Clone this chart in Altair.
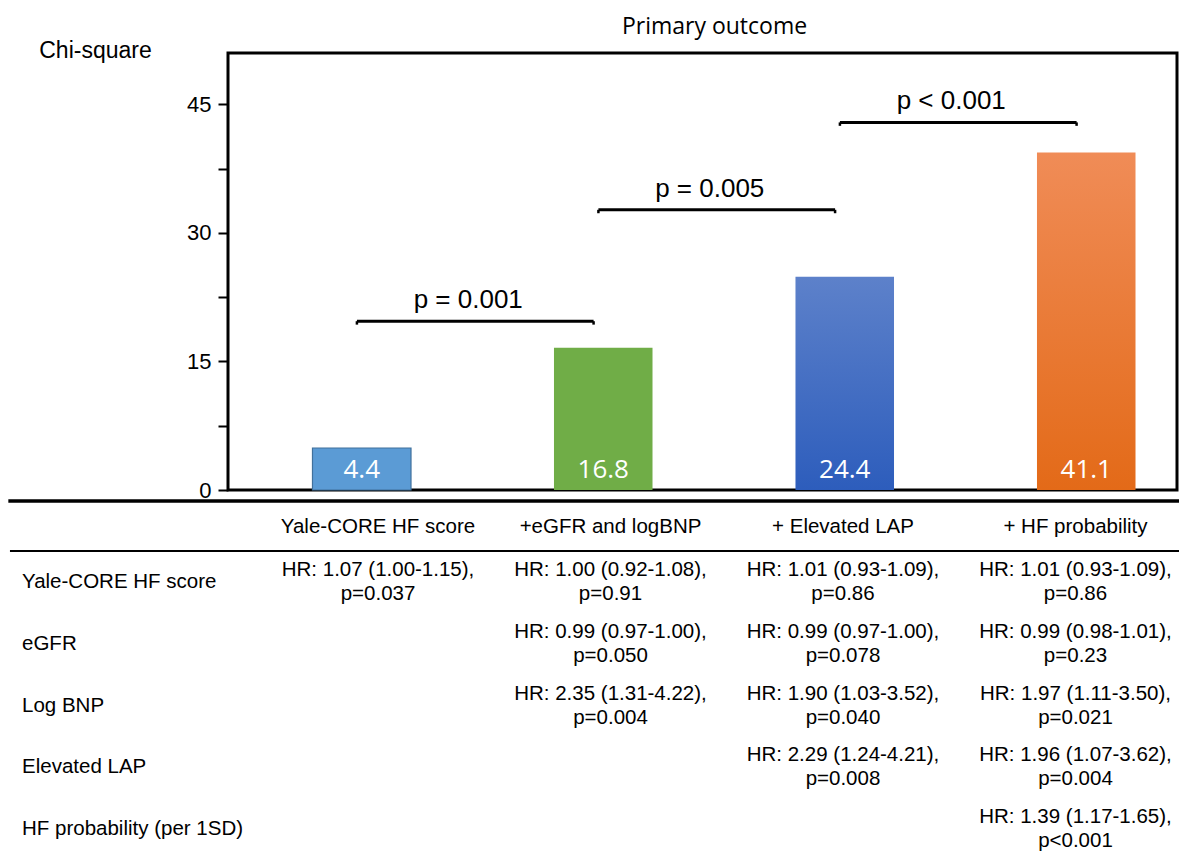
import altair as alt
import pandas as pd

# ---------------- data ----------------
models = ["Yale-CORE HF score", "+eGFR and logBNP", "+ Elevated LAP", "+ HF probability"]
chi_bar_heights = [4.9, 16.6, 24.9, 39.4]          # bar tops as drawn
chi_labels = ["4.4", "16.8", "24.4", "41.1"]       # printed values

comp_left = [0, 1, 2]
comp_right = [1, 2, 3]
comp_level = [19.7, 32.7, 42.9]
comp_p = ["p = 0.001", "p = 0.005", "p < 0.001"]

row_vars = ["Yale-CORE HF score", "eGFR", "Log BNP", "Elevated LAP", "HF probability (per 1SD)"]

col1_cells = ["HR: 1.07 (1.00-1.15),\np=0.037"]
col2_cells = ["HR: 1.00 (0.92-1.08),\np=0.91",
              "HR: 0.99 (0.97-1.00),\np=0.050",
              "HR: 2.35 (1.31-4.22),\np=0.004"]
col3_cells = ["HR: 1.01 (0.93-1.09),\np=0.86",
              "HR: 0.99 (0.97-1.00),\np=0.078",
              "HR: 1.90 (1.03-3.52),\np=0.040",
              "HR: 2.29 (1.24-4.21),\np=0.008"]
col4_cells = ["HR: 1.01 (0.93-1.09),\np=0.86",
              "HR: 0.99 (0.98-1.01),\np=0.23",
              "HR: 1.97 (1.11-3.50),\np=0.021",
              "HR: 1.96 (1.07-3.62),\np=0.004",
              "HR: 1.39 (1.17-1.65),\np<0.001"]

# ---------------- tables for the library ----------------
bars = pd.DataFrame({"idx": list(range(len(models))), "model": models,
                     "chi": chi_bar_heights, "label": chi_labels})
comps = pd.DataFrame({"li": comp_left, "ri": comp_right, "lvl": comp_level, "p": comp_p})

cell_rows = []
for c, col in enumerate([col1_cells, col2_cells, col3_cells, col4_cells], start=1):
    for r, txt in enumerate(col, start=1):
        cell_rows.append({"col": c, "row": r, "text": txt})
cells = pd.DataFrame(cell_rows)
headers = pd.DataFrame({"col": [1, 2, 3, 4], "row": [0] * 4, "text": models})
rowlabs = pd.DataFrame({"col": [0] * len(row_vars), "row": list(range(1, len(row_vars) + 1)),
                        "text": row_vars})
one = pd.DataFrame({"k": [0]})

# ---------------- scales / axes ----------------
W, H = 949, 437
x_scale = alt.Scale(domain=[-0.5538, 3.3758], nice=False, zero=False)
y_scale = alt.Scale(domain=[0, 51], nice=False, zero=False)
yaxis = alt.Axis(values=[0, 7.5, 15, 22.5, 30, 37.5, 45],
                 labelExpr="datum.value % 15 == 0 ? datum.label : ''",
                 grid=False, domain=False, ticks=True, tickSize=10, tickWidth=2,
                 tickColor="black", labelFont="Liberation Sans", labelFontSize=22,
                 labelColor="black", labelPadding=7, labelOverlap=False,
                 title="Chi-square", titleAngle=0, titleAlign="center",
                 titleBaseline="alphabetic", titleX=-133, titleY=4.5,
                 titleFont="Liberation Sans", titleFontSize=23,
                 titleFontWeight="normal", titleColor="black")

def X(f):
    return alt.X(f, scale=x_scale, axis=None)

def Y(f):
    return alt.Y(f, scale=y_scale, axis=yaxis)

bar_base = alt.Chart(bars).transform_calculate(
    x0="datum.idx - 0.204", x1="datum.idx + 0.204")

def vgrad(top, bottom):
    return alt.Gradient(gradient="linear",
                        stops=[alt.GradientStop(color=top, offset=0),
                               alt.GradientStop(color=bottom, offset=1)],
                        x1=0, x2=0, y1=0, y2=1)

bar_styles = [
    dict(fill="#5B9BD5", stroke="#41719C", strokeWidth=1.2),
    dict(fill="#70AD47"),
    dict(fill=vgrad("#5D81CA", "#2D5DBC")),
    dict(fill=vgrad("#F08C57", "#E36A18")),
]
bar_layers = []
for k, st in enumerate(bar_styles):
    bar_layers.append(
        bar_base.transform_filter(f"datum.idx == {k}").mark_bar(**st).encode(
            x=X("x0:Q"), x2="x1:Q", y=Y("chi:Q"),
            y2=alt.Y2(datum=0)))

bar_text = bar_base.mark_text(font="Open Sans", fontSize=26, color="white",
                              baseline="alphabetic", dy=-12.5).encode(
    x=X("idx:Q"), y=alt.Y(datum=0, scale=y_scale, axis=yaxis), text="label:N")

comp_base = alt.Chart(comps).transform_calculate(
    xa="datum.li - 0.02", xb="datum.ri - 0.04", xm="(datum.li + datum.ri - 0.06) / 2",
    lo="datum.lvl - 0.4")
bracket = comp_base.mark_rule(color="black", strokeWidth=3).encode(
    x=X("xa:Q"), x2="xb:Q", y=Y("lvl:Q"))
end_l = comp_base.mark_rule(color="black", strokeWidth=2.5).encode(
    x=X("xa:Q"), y=Y("lvl:Q"), y2="lo:Q")
end_r = comp_base.mark_rule(color="black", strokeWidth=2.5).encode(
    x=X("xb:Q"), y=Y("lvl:Q"), y2="lo:Q")
p_text = comp_base.mark_text(font="Liberation Sans", fontSize=26, color="black",
                             baseline="alphabetic", dy=-13, dx=-7).encode(
    x=X("xm:Q"), y=Y("lvl:Q"), text="p:N")

main = alt.layer(*bar_layers, bar_text, bracket, end_l, end_r, p_text)

# ---------------- table ----------------
tx_scale = alt.Scale(domain=[0.3548, 4.4366], nice=False, zero=False)
ty_scale = alt.Scale(domain=[-7.5958, -0.5016], nice=False, zero=False, reverse=True)

def TX(f=None, **kw):
    return alt.X(f, scale=tx_scale, axis=None, **kw) if f else alt.X(scale=tx_scale, axis=None, **kw)

def TY(f=None, **kw):
    return alt.Y(f, scale=ty_scale, axis=None, **kw) if f else alt.Y(scale=ty_scale, axis=None, **kw)

thick = alt.Chart(one).mark_rule(color="black", strokeWidth=3.5).encode(
    x=TX(datum=-0.59), x2=alt.X2(datum=4.52), y=TY(datum=-0.3231))
thin = alt.Chart(one).mark_rule(color="black", strokeWidth=2).encode(
    x=TX(datum=-0.583), x2=alt.X2(datum=4.52), y=TY(datum=0.4886))

txt_style = dict(font="Liberation Sans", fontSize=20.5, color="black")
head_t = alt.Chart(headers).mark_text(baseline="middle", align="center", dy=6.1,
                                      **txt_style).encode(
    x=TX("col:Q"), y=TY("row:Q"), text="text:N")
row_t = alt.Chart(rowlabs).mark_text(baseline="middle", align="left", dx=-123.5,
                                     **txt_style).encode(
    x=TX("col:Q"), y=TY("row:Q"), text="text:N")
cell_t = alt.Chart(cells).mark_text(baseline="middle", align="center", lineBreak="\n",
                                    lineHeight=24, dy=-12, **txt_style).encode(
    x=TX("col:Q"), y=TY("row:Q"), text="text:N")

table = alt.layer(thick, thin, head_t, row_t, cell_t)

chart = alt.layer(main, table).resolve_scale(x="independent", y="independent").properties(
    width=W, height=H,
    padding={"left": 220, "top": 45, "right": 2, "bottom": 363},
    autosize=alt.AutoSizeParams(type="none"),
    title=alt.Title("Primary outcome", font="Open Sans", fontSize=23,
                    fontWeight="normal", color="black", anchor="middle",
                    frame="group", baseline="alphabetic", offset=8, dx=12, dy=25),
).configure_view(stroke="black", strokeWidth=3)

chart.save("out.html", embed_options={"renderer": "svg", "actions": False})
